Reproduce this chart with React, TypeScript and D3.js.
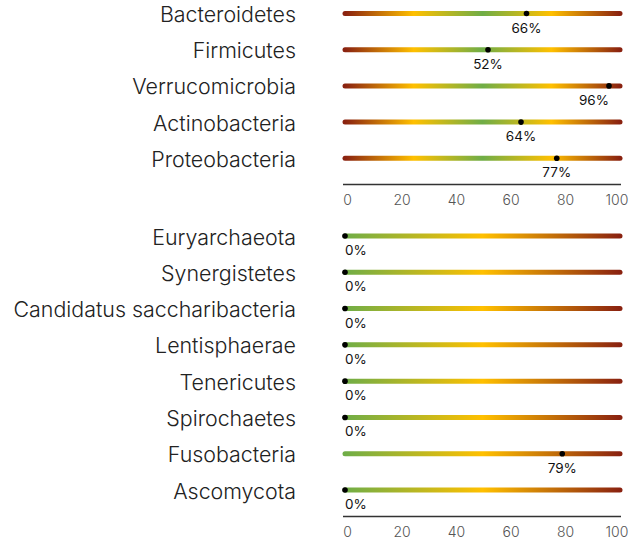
import React, { useEffect, useRef } from 'react';
import * as d3 from 'd3';

const topCategories = ['Bacteroidetes', 'Firmicutes', 'Verrucomicrobia', 'Actinobacteria', 'Proteobacteria'];
const topValues = [66, 52, 96, 64, 77];

const bottomCategories = [
  'Euryarchaeota',
  'Synergistetes',
  'Candidatus saccharibacteria',
  'Lentisphaerae',
  'Tenericutes',
  'Spirochaetes',
  'Fusobacteria',
  'Ascomycota',
];
const bottomValues = [0, 0, 0, 0, 0, 0, 79, 0];

const tickValues = [0, 20, 40, 60, 80, 100];

// gradient stops (offset %, colour)
const topStops: [number, string][] = [
  [0, '#8a2210'],
  [25, '#ffc000'],
  [50, '#6fad47'],
  [75, '#ffc000'],
  [100, '#8a2210'],
];
const bottomStops: [number, string][] = [
  [0, '#6fad47'],
  [50, '#ffc000'],
  [100, '#8a2210'],
];

const App = () => {
  const ref = useRef<HTMLDivElement>(null);

  useEffect(() => {
    if (!ref.current) return;
    d3.select(ref.current).selectAll('*').remove();

    const width = 644;
    const height = 542;
    const font = 'Inter, "Noto Sans", sans-serif';

    const svg = d3
      .select(ref.current)
      .append('svg')
      .attr('width', width)
      .attr('height', height);

    const x = d3.scaleLinear().domain([0, 100]).range([345, 620]);
    // tick labels sit slightly inside the bar ends
    const xTick = d3.scaleLinear().domain([0, 100]).range([347, 619.5]);

    const defs = svg.append('defs');
    const addGradient = (id: string, stops: [number, string][]) => {
      const g = defs
        .append('linearGradient')
        .attr('id', id)
        .attr('gradientUnits', 'userSpaceOnUse')
        .attr('x1', x(0))
        .attr('x2', x(100))
        .attr('y1', 0)
        .attr('y2', 0);
      stops.forEach(([o, c]) => g.append('stop').attr('offset', o + '%').attr('stop-color', c));
    };
    addGradient('gradTop', topStops);
    addGradient('gradBottom', bottomStops);

    const drawGroup = (
      cats: string[],
      vals: number[],
      yRange: [number, number],
      axisY: number,
      grad: string
    ) => {
      const y = d3.scalePoint().domain(cats).range(yRange);
      const g = svg.append('g');

      // category labels
      g.selectAll('.cat')
        .data(cats)
        .join('text')
        .attr('x', 296)
        .attr('y', d => y(d)!)
        .attr('dy', '0.4em')
        .attr('text-anchor', 'end')
        .style('font-family', font)
        .style('font-size', '21.4px')
        .style('font-weight', 300)
        .attr('fill', '#222')
        .text(d => d);

      // gradient bars
      g.selectAll('.bar')
        .data(cats)
        .join('line')
        .attr('x1', x(0))
        .attr('x2', x(100))
        .attr('y1', d => y(d)!)
        .attr('y2', d => y(d)!)
        .attr('stroke', `url(#${grad})`)
        .attr('stroke-width', 5)
        .attr('stroke-linecap', 'round');

      // markers
      g.selectAll('.dot')
        .data(vals)
        .join('circle')
        .attr('cx', d => x(d))
        .attr('cy', (d, i) => y(cats[i])!)
        .attr('r', 2.8)
        .attr('fill', '#000');

      g.selectAll('.pct')
        .data(vals)
        .join('text')
        .attr('x', d => x(d))
        .attr('y', (d, i) => y(cats[i])! + 19)
        .attr('text-anchor', d => (d < 5 ? 'start' : d > 90 ? 'end' : 'middle'))
        .style('font-family', font)
        .style('font-size', '13.5px')
        .attr('fill', '#111')
        .text(d => d + '%');

      // axis line
      g.append('line')
        .attr('x1', x(0) - 2)
        .attr('x2', x(100) + 1)
        .attr('y1', axisY)
        .attr('y2', axisY)
        .attr('stroke', '#333')
        .attr('stroke-width', 1.5);

      const axis = d3.axisBottom(xTick).tickValues(tickValues).tickSize(0).tickPadding(11);
      const ag = g.append('g').attr('transform', `translate(0, ${axisY})`).call(axis);
      ag.select('.domain').remove();
      ag.selectAll('text')
        .style('font-family', font)
        .style('font-size', '14px')
        .style('font-weight', 300)
        .attr('fill', '#555')
        .attr('dx', (d: any) => (d === 100 ? -3 : 0));
    };

    drawGroup(topCategories, topValues, [13.5, 158.3], 184.5, 'gradTop');
    drawGroup(bottomCategories, bottomValues, [236, 490], 516.5, 'gradBottom');
  }, []);

  return <div ref={ref} style={{ position: 'absolute', left: 0, top: 0 }}></div>;
};

export default App;
